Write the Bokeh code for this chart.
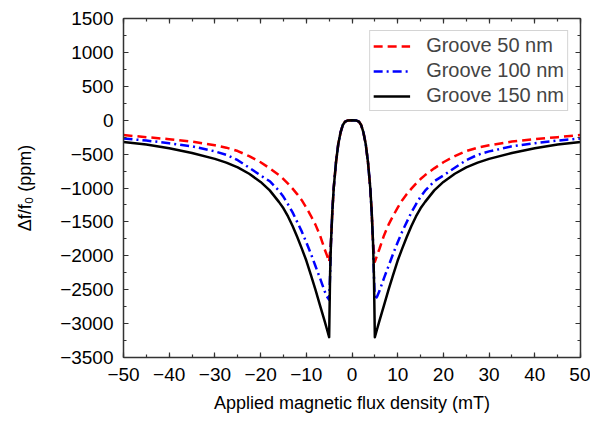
from bokeh.plotting import figure
from bokeh.models import (Legend, LegendItem, LinearAxis, SingleIntervalTicker, Range1d,
                          CustomLabelingPolicy)
from bokeh.embed import file_html
from bokeh.resources import INLINE

# ---- data ----
b_red = [-50, -45, -40, -35, -30, -27.5, -25, -22.5, -20, -18, -16, -15, -14, -13, -12, -11,
         -10, -9, -8, -7, -6, -5.5, -5,
         -4.6, -4.3, -4, -3.5, -3, -2.5, -2, -1.5, -1, 0, 1, 1.5, 2, 2.5, 3, 3.5, 4, 4.3, 4.6,
         5, 5.5, 6, 7, 8, 9, 10, 11, 12, 13, 14, 15, 16, 18, 20, 22.5, 25, 27.5, 30, 35, 40,
         45, 50]
groove_50 = [-220, -250, -280, -315, -370, -405, -455, -530, -620, -710, -810, -868, -935,
             -1010, -1090, -1180, -1290, -1410, -1540, -1700, -1900, -1990, -2090,
             -1800, -1340, -1000, -620, -350, -180, -70, -20, -5, 0, -5, -20, -70, -180, -350,
             -620, -1000, -1340, -1800,
             -2090, -1990, -1900, -1700, -1540, -1410, -1290, -1180, -1090, -1010, -935, -868,
             -810, -710, -620, -530, -455, -405, -370, -315, -280, -250, -220]

b_full = [-50, -45, -40, -35, -30, -27.5, -25, -22.5, -20, -18, -16, -15, -14, -13, -12, -11,
          -10, -9, -8, -7, -6.5, -6, -5.5, -5,
          -4.8, -4.6, -4.3, -4, -3.5, -3, -2.5, -2, -1.5, -1, 0, 1, 1.5, 2, 2.5, 3, 3.5, 4,
          4.3, 4.6, 4.8,
          5, 5.5, 6, 6.5, 7, 8, 9, 10, 11, 12, 13, 14, 15, 16, 18, 20, 22.5, 25, 27.5, 30, 35,
          40, 45, 50]
groove_100 = [-270, -300, -340, -385, -460, -510, -590, -700, -815, -900, -1040, -1130, -1240,
              -1360, -1500, -1640, -1800, -1970, -2150, -2330, -2425, -2520, -2600, -2650,
              -2300, -1800, -1340, -1000, -620, -350, -180, -70, -20, -5, 0, -5, -20, -70,
              -180, -350, -620, -1000, -1340, -1800, -2300,
              -2650, -2600, -2520, -2425, -2330, -2150, -1970, -1800, -1640, -1500, -1360,
              -1240, -1130, -1040, -900, -815, -700, -590, -510, -460, -385, -340, -300, -270]
groove_150 = [-320, -360, -415, -485, -570, -625, -695, -790, -910, -1035, -1205, -1300, -1420,
              -1560, -1720, -1890, -2070, -2280, -2500, -2730, -2845, -2960, -3080, -3200,
              -2300, -1800, -1340, -1000, -620, -350, -180, -70, -20, -5, 0, -5, -20, -70,
              -180, -350, -620, -1000, -1340, -1800, -2300,
              -3200, -3080, -2960, -2845, -2730, -2500, -2280, -2070, -1890, -1720, -1560,
              -1420, -1300, -1205, -1035, -910, -790, -695, -625, -570, -485, -415, -360, -320]

series_labels = ["Groove 50 nm", "Groove 100 nm", "Groove 150 nm"]
x_label = "Applied magnetic flux density (mT)"
y_label = "Δf/f₀ (ppm)"

FONT = "Liberation Sans"
AX = "#333333"

p = figure(width=590, height=417, output_backend="svg", toolbar_location=None,
           x_range=Range1d(-50, 50), y_range=Range1d(-3500, 1500),
           min_border_left=123, min_border_right=10, min_border_top=18,
           min_border_bottom=60)
p.xgrid.visible = False
p.ygrid.visible = False
p.outline_line_color = None
p.background_fill_color = "white"
p.border_fill_color = "white"

no_labels = CustomLabelingPolicy(code="""
for (const i of Array.from(indices)) { indices.unset(i) }
return indices
""")

def style_axis(ax, show_labels=True):
    ax.axis_line_color = AX
    ax.axis_line_width = 1.5
    ax.major_tick_line_color = AX
    ax.minor_tick_line_color = AX
    ax.major_tick_line_width = 1.2
    ax.minor_tick_line_width = 1.2
    ax.major_tick_in = 5
    ax.major_tick_out = 0
    ax.minor_tick_in = 3
    ax.minor_tick_out = 0
    if show_labels:
        ax.major_label_text_font = FONT
        ax.major_label_text_font_size = "19px"
        ax.major_label_text_color = "black"
        ax.axis_label_text_font = FONT
        ax.axis_label_text_font_size = "18px"
        ax.axis_label_text_font_style = "normal"
        ax.axis_label_text_color = "black"
    else:
        ax.major_label_policy = no_labels
        ax.major_label_text_font_size = "0px"
        ax.major_label_standoff = 0
        ax.axis_label = None

xa = p.xaxis[0]
xa.ticker = SingleIntervalTicker(interval=10, num_minor_ticks=2)
xa.axis_label = x_label
style_axis(xa)
xa.major_label_standoff = 10
xa.axis_label_standoff = 9

ya = p.yaxis[0]
ya.ticker = SingleIntervalTicker(interval=500, num_minor_ticks=2)
ya.axis_label = y_label
style_axis(ya)
ya.major_label_standoff = 10
ya.axis_label_standoff = 22

top = LinearAxis(ticker=SingleIntervalTicker(interval=10, num_minor_ticks=2))
style_axis(top, show_labels=False)
p.add_layout(top, "above")
right = LinearAxis(ticker=SingleIntervalTicker(interval=500, num_minor_ticks=2))
style_axis(right, show_labels=False)
p.add_layout(right, "right")

r1 = p.line(b_red, groove_50, line_color="#ff0000", line_width=2.5, line_dash="9 5",
            line_join="round")
r2 = p.line(b_full, groove_100, line_color="#0000ff", line_width=2.5, line_dash="9 4 2 4",
            line_join="round")
r3 = p.line(b_full, groove_150, line_color="black", line_width=2.5, line_join="round")

legend = Legend(items=[LegendItem(label=series_labels[0], renderers=[r1]),
                       LegendItem(label=series_labels[1], renderers=[r2]),
                       LegendItem(label=series_labels[2], renderers=[r3])],
                location="top_right", label_text_font=FONT, label_text_font_size="20px",
                border_line_color="#aaaaaa", border_line_width=1, glyph_width=37,
                label_standoff=16, spacing=2, padding=3, margin=12,
                background_fill_alpha=1.0)
p.add_layout(legend)

open("out.html", "w").write(file_html(p, INLINE))
